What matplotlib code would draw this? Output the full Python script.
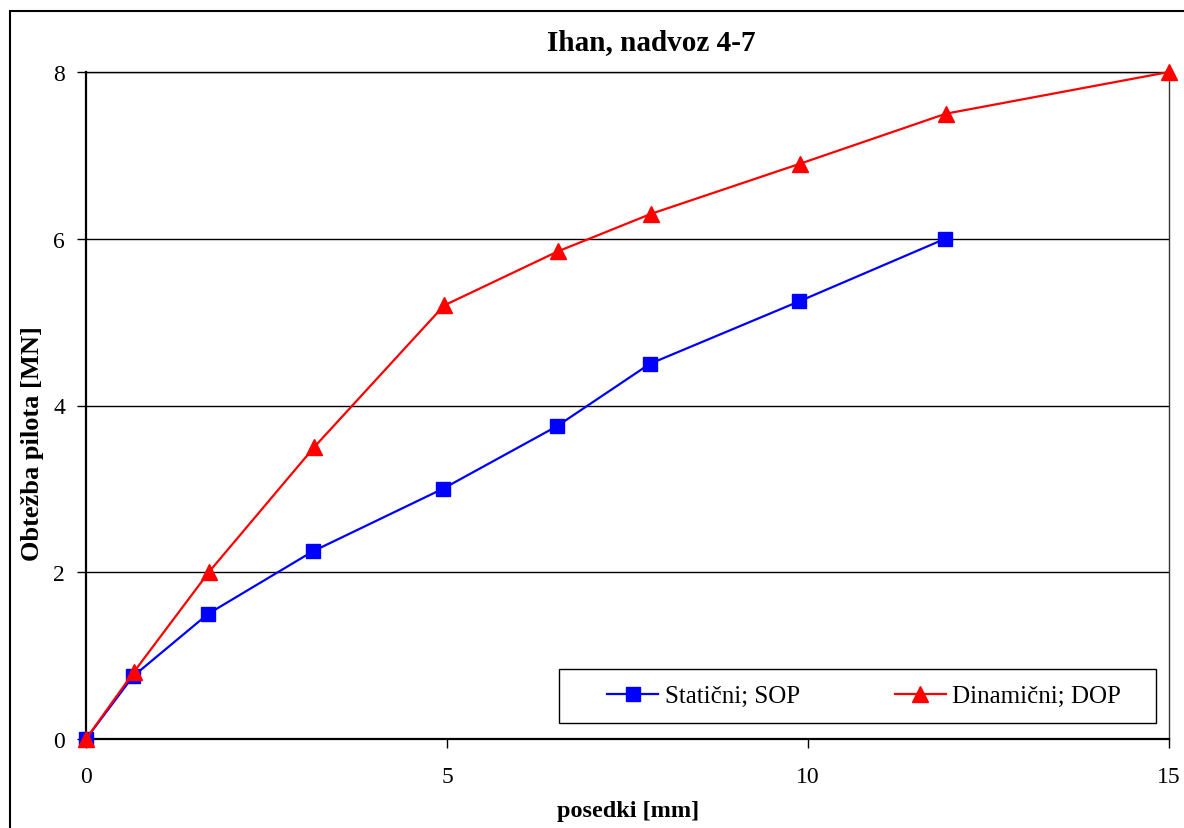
import matplotlib
matplotlib.use("Agg")
import matplotlib.pyplot as plt
from matplotlib.patches import Rectangle

# Settlement [mm] vs pile load [MN]
static_settlement = [0.0, 0.65, 1.69, 3.14, 4.94, 6.52, 7.81, 9.88, 11.9]
static_load = [0.0, 0.75, 1.5, 2.25, 3.0, 3.75, 4.5, 5.25, 6.0]

dynamic_settlement = [0.0, 0.66, 1.70, 3.16, 4.96, 6.54, 7.83, 9.89, 11.91, 15.0]
dynamic_load = [0.0, 0.8, 2.0, 3.5, 5.2, 5.85, 6.3, 6.9, 7.5, 8.0]

x_ticks = [0, 5, 10, 15]
y_ticks = [0, 2, 4, 6, 8]

plt.rcParams["font.family"] = ["Liberation Serif", "DejaVu Serif"]

W, H = 1184, 829
fig = plt.figure(figsize=(W / 100, H / 100), dpi=100)
fig.patch.set_facecolor("white")


def fx(px):
    return px / W


def fy(py):
    return 1 - py / H


# outer chart frame (runs off the right and bottom edges)
fig.patches.append(Rectangle((fx(10), -0.2), 1.5, fy(12) + 0.2,
                             transform=fig.transFigure, fill=False,
                             edgecolor="black", linewidth=1.5, zorder=0))

ax = fig.add_axes([fx(86), fy(740), fx(1169) - fx(86), fy(73) - fy(740)])

ax.plot(static_settlement, static_load, color="#0000ff", linewidth=1.6,
        marker="s", markersize=9.5, markerfacecolor="#0000ff",
        markeredgecolor="#0000ff", label="Statični; SOP", clip_on=False, zorder=3)
ax.plot(dynamic_settlement, dynamic_load, color="#ff0000", linewidth=1.6,
        marker="^", markersize=12, markerfacecolor="#ff0000",
        markeredgecolor="#ff0000", label="Dinamični; DOP", clip_on=False, zorder=4)

ax.set_xlim(0, 15)
ax.set_ylim(0, 8)
ax.set_xticks(x_ticks)
ax.set_yticks(y_ticks)
ax.tick_params(axis="both", direction="out", length=6.5, width=1, labelsize=17,
               colors="black")
ax.tick_params(axis="x", pad=13)
ax.tick_params(axis="y", pad=8.5)

ax.yaxis.grid(True, color="black", linewidth=1)
ax.set_axisbelow(True)

ax.spines["left"].set_linewidth(1.6)
ax.spines["bottom"].set_linewidth(1.6)
ax.spines["right"].set_linewidth(1)
ax.spines["right"].set_color("#333333")
ax.spines["top"].set_linewidth(1)

fig.text(fx(651), fy(43), "Ihan, nadvoz 4-7", ha="center", va="center",
         fontsize=21, fontweight="bold")
fig.text(fx(628), fy(812), "posedki [mm]", ha="center", va="center",
         fontsize=17.5, fontweight="bold")
fig.text(fx(33), fy(444), "Obtežba pilota [MN]", ha="center", va="center",
         rotation=90, fontsize=19, fontweight="bold")

# legend box and entries
legend_box = Rectangle((fx(559), fy(724)), fx(1156) - fx(559),
                       fy(670) - fy(724), transform=fig.transFigure,
                       facecolor="white", edgecolor="black",
                       linewidth=1, zorder=5, clip_on=False)
ax.add_patch(legend_box)
leg = ax.legend(loc="center left", ncol=2, fontsize=18,
                bbox_to_anchor=(fx(607), fy(697)),
                bbox_transform=fig.transFigure,
                frameon=False, borderpad=0, borderaxespad=0,
                handlelength=2.05, handletextpad=0.25, columnspacing=3.8)
leg.set_zorder(6)

fig.savefig("out.png", dpi=100, facecolor="white")
